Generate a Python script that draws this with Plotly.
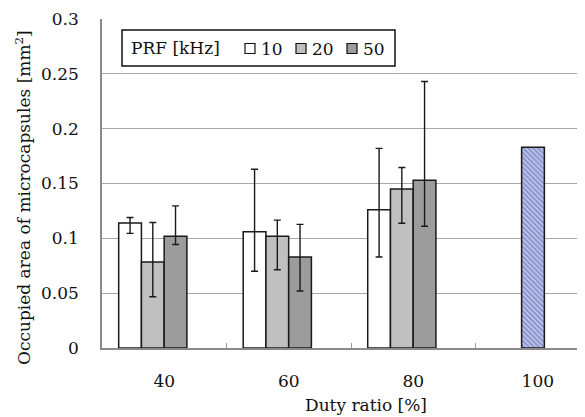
import plotly.graph_objects as go

# ---- data ----
categories = ["40", "60", "80", "100"]
series_names = ["10", "20", "50"]
series_cats = ["40", "60", "80"]
prf10 = [0.114, 0.106, 0.126]
prf10_plus = [0.005, 0.057, 0.056]
prf10_minus = [0.0095, 0.036, 0.043]
prf20 = [0.0785, 0.102, 0.145]
prf20_plus = [0.036, 0.0146, 0.0196]
prf20_minus = [0.0318, 0.0306, 0.0313]
prf50 = [0.102, 0.083, 0.153]
prf50_plus = [0.0276, 0.0297, 0.090]
prf50_minus = [0.0076, 0.031, 0.042]
cw_cats = ["100"]
cw_values = [0.183]
y_ticks = [0, 0.05, 0.1, 0.15, 0.2, 0.25, 0.3]
y_ticktext = ["0", "0.05", "0.1", "0.15", "0.2", "0.25", "0.3"]

# ---- style ----
FONT = "DejaVu Serif"
OX, OY = 8, 8            # page body margin in the browser
WIN_W, WIN_H = 585, 417
W, H = WIN_W - OX, WIN_H - OY
PL, PR, PT, PB = 102, 585, 19, 348
L, R, T, B = PL - OX, WIN_W - PR, PT - OY, WIN_H - PB
PW, PH = PR - PL, PB - PT
colors = ["#ffffff", "#c0c0c0", "#9c9c9c"]
bar_w = 0.1826
offsets = [-0.366, -0.1834, -0.0008]
FS = 17

def px2x(px):
    return (px - PL) / PW

def py2y(py):
    return (PB - py) / PH

fig = go.Figure()
vals = [prf10, prf20, prf50]
plus = [prf10_plus, prf20_plus, prf50_plus]
minus = [prf10_minus, prf20_minus, prf50_minus]
for i in range(3):
    fig.add_trace(go.Bar(
        x=series_cats, y=vals[i], name=series_names[i],
        width=bar_w, offset=offsets[i],
        marker=dict(color=colors[i], line=dict(color="#1a1a1a", width=1.5)),
        error_y=dict(type="data", symmetric=False, array=plus[i], arrayminus=minus[i],
                     color="#1a1a1a", thickness=1.4, width=3.5),
        showlegend=False,
    ))

fig.add_trace(go.Bar(
    x=cw_cats, y=cw_values, name="100",
    width=bar_w, offset=-0.13,
    marker=dict(color="#b8c0ea", line=dict(color="#1a1a1a", width=1.5),
                pattern=dict(shape="\\", fgcolor="#3e4c9e", bgcolor="#c4cbf0",
                             size=3.5, solidity=0.5)),
    showlegend=False,
))

shapes = [dict(type="rect", xref="paper", yref="paper",
               x0=px2x(122), x1=px2x(395), y0=py2y(66), y1=py2y(30),
               line=dict(color="#111", width=1.5), fillcolor="white", layer="above")]
annotations = [dict(text="PRF [kHz]", xref="paper", yref="paper",
                    x=px2x(129), y=py2y(48), xanchor="left", yanchor="middle",
                    showarrow=False, font=dict(family=FONT, size=FS, color="#111"))]
sq_x = [245, 296, 347]
for i in range(3):
    shapes.append(dict(type="rect", xref="paper", yref="paper",
                       x0=px2x(sq_x[i]), x1=px2x(sq_x[i] + 10),
                       y0=py2y(53.5), y1=py2y(43.5),
                       line=dict(color="#111", width=1.2), fillcolor=colors[i], layer="above"))
    annotations.append(dict(text=series_names[i], xref="paper", yref="paper",
                            x=px2x(sq_x[i] + 14), y=py2y(49), xanchor="left", yanchor="middle",
                            showarrow=False, font=dict(family=FONT, size=FS, color="#111")))

annotations.append(dict(text="Duty ratio [%]", xref="paper", yref="paper",
                        x=px2x(366), y=py2y(405), xanchor="center", yanchor="middle",
                        showarrow=False, font=dict(family=FONT, size=FS, color="#111")))
annotations.append(dict(text="Occupied area of microcapsules [mm<sup>2</sup>]",
                        xref="paper", yref="paper", textangle=-90,
                        x=px2x(23), y=py2y(198), xanchor="center", yanchor="middle",
                        showarrow=False, font=dict(family=FONT, size=FS, color="#111")))

fig.update_layout(
    width=W, height=H,
    margin=dict(l=L, r=R, t=T, b=B, pad=0),
    paper_bgcolor="white", plot_bgcolor="white",
    barmode="group",
    font=dict(family=FONT, size=FS, color="#111"),
    shapes=shapes, annotations=annotations,
    xaxis=dict(type="category", categoryorder="array", categoryarray=categories,
               range=[-0.5, 3.379], showgrid=False,
               showline=True, linecolor="#8a8a8a", linewidth=1.5,
               ticks="inside", tickson="boundaries", ticklen=5, tickcolor="#9a9a9a",
               ticklabelstandoff=17, tickfont=dict(family=FONT, size=FS, color="#111")),
    yaxis=dict(range=[0, 0.3], tickvals=y_ticks, ticktext=y_ticktext,
               showgrid=True, gridcolor="#a8a8a8", gridwidth=1.2,
               showline=True, linecolor="#8a8a8a", linewidth=1.5,
               zeroline=False, ticks="", ticklabelstandoff=18,
               tickfont=dict(family=FONT, size=FS, color="#111")),
)

fig.write_html("out.html")
